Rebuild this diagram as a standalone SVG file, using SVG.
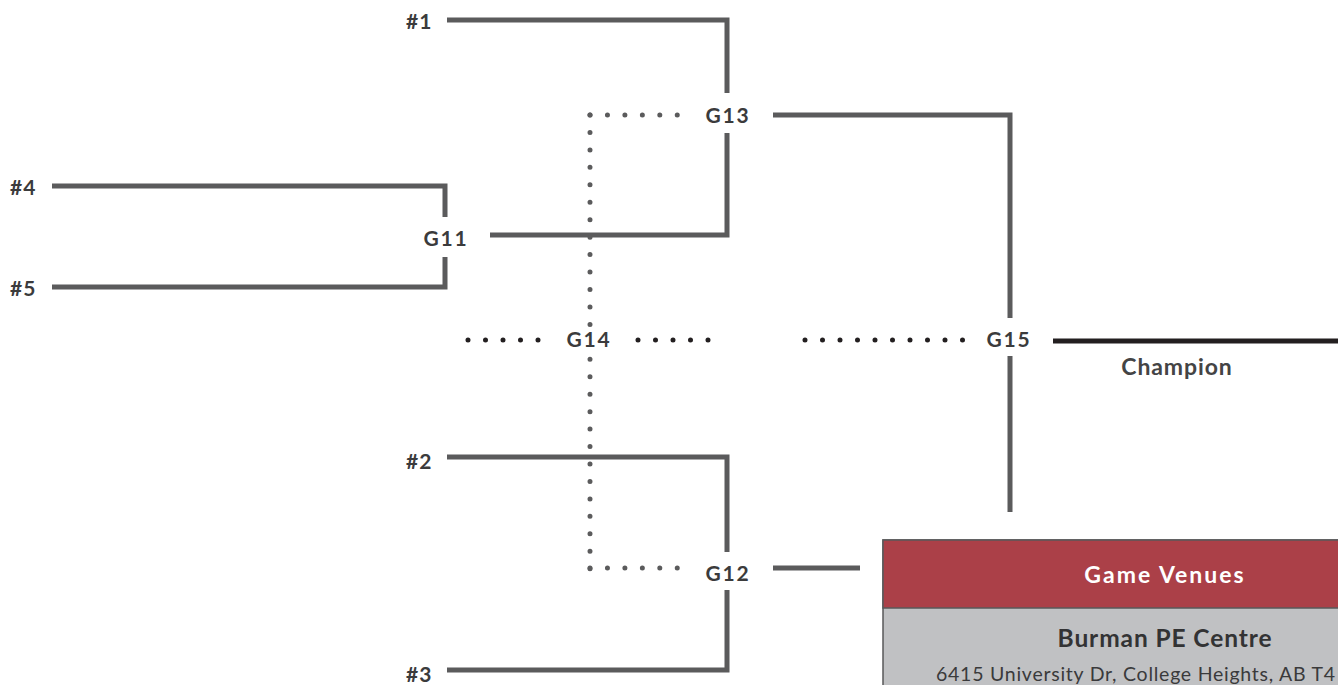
<svg xmlns="http://www.w3.org/2000/svg" width="1338" height="685" viewBox="0 0 1338 685">
<style>
.ln{fill:none;stroke:#5b5b5c;stroke-width:5;stroke-linejoin:miter;stroke-linecap:butt}
.dv{fill:none;stroke:#5b5b5c;stroke-width:5;stroke-linecap:round;stroke-dasharray:0 17.45}
.dh{fill:none;stroke:#231f20;stroke-width:5;stroke-linecap:round;stroke-dasharray:0 17.5}
.lb{font-family:Lato,"Open Sans",sans-serif;font-weight:700;font-size:21px;fill:#3b3b3c;letter-spacing:1px;dominant-baseline:central}
.gm{font-family:Lato,"Open Sans",sans-serif;font-weight:700;font-size:21px;fill:#3b3b3c;letter-spacing:1.8px;text-anchor:middle;dominant-baseline:central}
</style>
<rect width="1338" height="685" fill="#ffffff"/>
<g id="connectors">
<polyline class="ln" points="447,20 727,20 727,93"/>
<polyline class="ln" points="727,133 727,235 490,235"/>
<polyline class="ln" points="52,186 445,186 445,217"/>
<polyline class="ln" points="445,257 445,287 52,287"/>
<polyline class="ln" points="773,115 1010,115 1010,318"/>
<line class="ln" x1="1010" y1="356" x2="1010" y2="512"/>
<polyline class="ln" points="447,457 727,457 727,552"/>
<polyline class="ln" points="727,590 727,670 447,670"/>
<line class="ln" x1="773" y1="568" x2="860" y2="568"/>
<line x1="1053" y1="341" x2="1338" y2="341" stroke="#231f20" stroke-width="5"/>
<path class="dv" d="M590,115 V325"/>
<path class="dv" d="M590,359.3 V569"/>
<path class="dv" d="M590,115 H685"/>
<path class="dv" d="M590,568 H685"/>
<path class="dh" d="M468,340 H545"/>
<path class="dh" d="M638,340 H715"/>
<path class="dh" d="M805,340 H970"/>
</g>
<g id="seed1"><text class="lb" x="406" y="20">#1</text></g>
<g id="seed4"><text class="lb" x="10" y="186">#4</text></g>
<g id="seed5"><text class="lb" x="10" y="287">#5</text></g>
<g id="seed2"><text class="lb" x="406" y="460">#2</text></g>
<g id="seed3"><text class="lb" x="406" y="673">#3</text></g>
<g id="G11"><text class="gm" x="446" y="237">G11</text></g>
<g id="G13"><text class="gm" x="728" y="114">G13</text></g>
<g id="G12"><text class="gm" x="728" y="572">G12</text></g>
<g id="G14"><text class="gm" x="589" y="338">G14</text></g>
<g id="G15"><text class="gm" x="1009" y="338">G15</text></g>
<g id="champion"><text x="1177" y="375" font-family="Lato,'Open Sans',sans-serif" font-weight="700" font-size="23" fill="#444445" text-anchor="middle" letter-spacing="0.9">Champion</text></g>
<g id="venues">
<rect x="883" y="540" width="470" height="160" fill="#c0c1c3" stroke="#58585a" stroke-width="1.5"/>
<rect x="883" y="540" width="470" height="68" fill="#ab4048" stroke="#58585a" stroke-width="1.5"/>
<text x="1165" y="583" font-family="Lato,'Open Sans',sans-serif" font-weight="700" font-size="23" fill="#ffffff" text-anchor="middle" letter-spacing="2">Game Venues</text>
<text x="1165" y="647" font-family="Lato,'Open Sans',sans-serif" font-weight="700" font-size="24.5" fill="#333334" text-anchor="middle" letter-spacing="0.9">Burman PE Centre</text>
<text x="936" y="681" font-family="Lato,'Open Sans',sans-serif" font-weight="400" font-size="19.5" fill="#3a3a3b" letter-spacing="0.75">6415 University Dr, College Heights, AB T4</text>
</g>
</svg>
